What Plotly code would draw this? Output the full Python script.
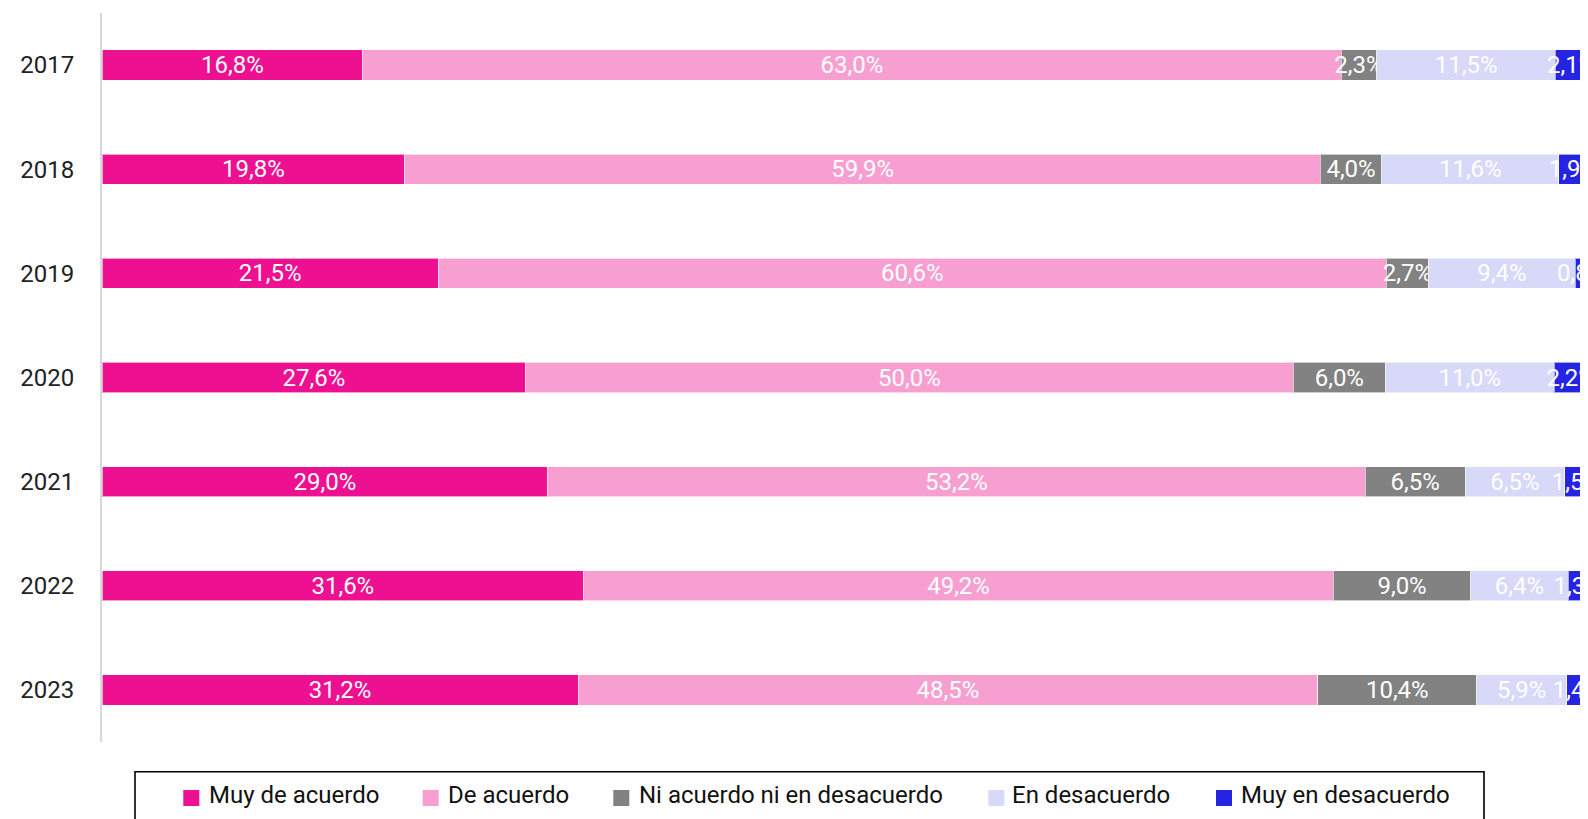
import plotly.graph_objects as go

years = ["2017", "2018", "2019", "2020", "2021", "2022", "2023"]
series_names = ["Muy de acuerdo", "De acuerdo", "Ni acuerdo ni en desacuerdo", "En desacuerdo", "Muy en desacuerdo"]
muy_de_acuerdo = [16.8, 19.8, 21.5, 27.6, 29.0, 31.6, 31.2]
de_acuerdo = [63.0, 59.9, 60.6, 50.0, 53.2, 49.2, 48.5]
ni_acuerdo = [2.3, 4.0, 2.7, 6.0, 6.5, 9.0, 10.4]
en_desacuerdo = [11.5, 11.6, 9.4, 11.0, 6.5, 6.4, 5.9]
muy_en_desacuerdo = [2.1, 1.9, 0.8, 2.2, 1.5, 1.3, 1.4]
colors = ["#ED1090", "#F89FD2", "#828282", "#D8D8F8", "#2424E2"]

values = [muy_de_acuerdo, de_acuerdo, ni_acuerdo, en_desacuerdo, muy_en_desacuerdo]

# layout geometry (figure sits 8px inside the page because of the body margin)
W, H = 1580, 811
ML, MR, MT, MB = 94, 0, 5, 77
PW, PH = W - ML - MR, H - MT - MB
OFF = 8


def px(vx):
    return (vx - OFF - ML) / PW


def py(vy):
    return (H - MB - (vy - OFF)) / PH


fig = go.Figure()
for name, vals, col in zip(series_names, values, colors):
    fig.add_trace(go.Bar(
        y=years, x=vals, name=name, orientation="h",
        marker=dict(color=col, line=dict(width=1, color="rgba(255,255,255,0.6)")),
        text=[f"{v:.1f}%".replace(".", ",") for v in vals],
        textposition="inside", insidetextanchor="middle", textangle=0,
        textfont=dict(family="Roboto", size=24, color="white"),
        width=0.29, cliponaxis=True, showlegend=False,
    ))

# manual legend (box, swatches, labels)
legend_sym_x = [183.3, 422.7, 613.3, 988.3, 1216.0]
legend_txt_x = [206.5, 446.0, 636.5, 1010.0, 1238.5]
shapes = [dict(type="rect", xref="paper", yref="paper",
               x0=px(135), x1=px(1484), y0=py(840), y1=py(771.7),
               line=dict(color="black", width=1.6), fillcolor="rgba(0,0,0,0)")]
annotations = []
for name, col, sx, tx in zip(series_names, colors, legend_sym_x, legend_txt_x):
    shapes.append(dict(type="rect", xref="paper", yref="paper",
                       x0=px(sx), x1=px(sx + 16), y0=py(806), y1=py(790),
                       line=dict(width=0), fillcolor=col))
    annotations.append(dict(text=name, xref="paper", yref="paper",
                            x=px(tx), y=py(795.5), xanchor="left", yanchor="middle",
                            showarrow=False,
                            font=dict(family="Roboto", size=24, color="#111111")))

fig.update_layout(
    barmode="stack", barnorm="percent",
    width=W, height=H,
    margin=dict(l=ML, r=MR, t=MT, b=MB, autoexpand=False),
    plot_bgcolor="white", paper_bgcolor="white",
    uniformtext=dict(minsize=24, mode="show"),
    showlegend=False,
    shapes=shapes, annotations=annotations,
    xaxis=dict(range=[0, 100], showgrid=False, showticklabels=False, zeroline=False,
               showline=False, fixedrange=True),
    yaxis=dict(categoryorder="array", categoryarray=years, autorange="reversed",
               showgrid=False, showline=True, linecolor="#d9d9d9", linewidth=2,
               ticks="", ticklabelstandoff=21,
               tickfont=dict(family="Roboto", size=24, color="#222222")),
)

fig.write_html("out.html")
